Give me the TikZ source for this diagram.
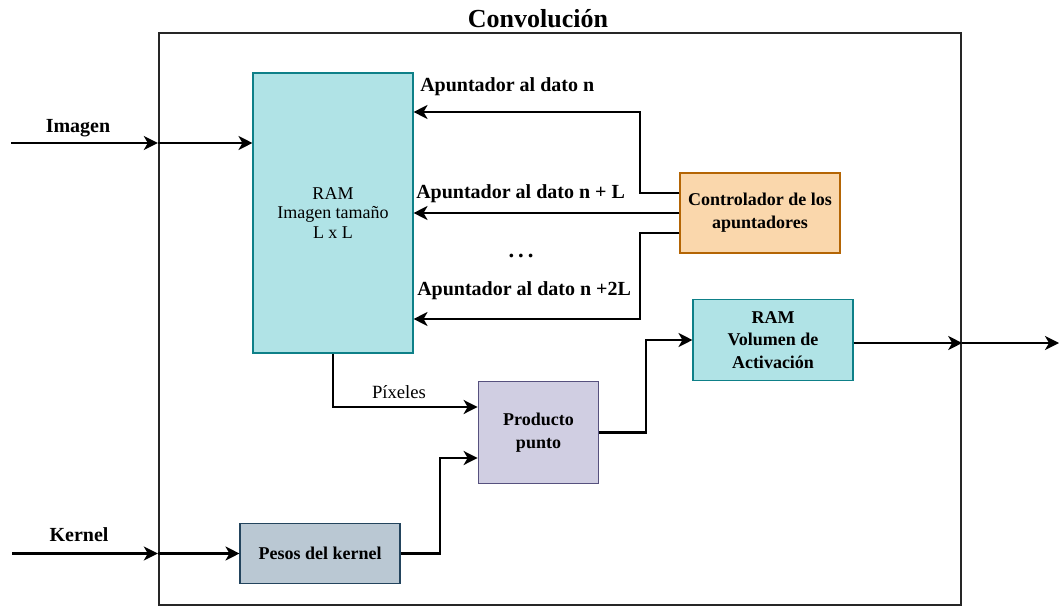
\documentclass[tikz,border=0pt]{standalone}
\usepackage{fontspec}
\setmainfont{Liberation Serif}
\usetikzlibrary{arrows.meta,calc}
\definecolor{tealF}{HTML}{B0E3E6}\definecolor{tealD}{HTML}{0E8088}
\definecolor{orF}{HTML}{FAD7AC}\definecolor{orD}{HTML}{B46504}
\definecolor{puF}{HTML}{D0CEE2}\definecolor{puD}{HTML}{56517E}
\definecolor{bgF}{HTML}{BAC8D3}\definecolor{bgD}{HTML}{23445D}
\tikzset{
  blk/.style={draw, line width=0.8pt, align=center, inner sep=2pt, font=\fontsize{13.5}{17}\selectfont\bfseries},
  arr/.style={line width=1.6pt, -{Stealth[length=10.5pt,width=10.5pt,inset=3pt]}},
  lbl/.style={font=\fontsize{15}{18}\selectfont\bfseries, inner sep=0pt},
}
\begin{document}
\begin{tikzpicture}[x=0.75pt,y=-0.75pt]
\useasboundingbox (0,0) rectangle (1060,606);
% outer box
\node[draw=black!85, line width=1.8pt, minimum width=601.5pt, minimum height=429pt, inner sep=0pt] (conv) at (560,319) {};
\node[font=\fontsize{19.5}{22}\selectfont\bfseries, inner sep=0pt] (title) at (538,19) {Convolución};
% blocks
\node[blk, fill=tealF, draw=tealD, minimum width=120pt, minimum height=210pt, font=\fontsize{13.5}{14.5}\selectfont] (ram) at (333,213) {RAM\\Imagen tamaño\\L x L};
\node[blk, fill=orF, draw=orD, minimum width=120pt, minimum height=60pt] (ctrl) at (760,213) {Controlador de los\\apuntadores};
\node[blk, fill=tealF, draw=tealD, minimum width=120pt, minimum height=61pt] (vol) at (773,340) {RAM\\Volumen de\\Activación};
\node[blk, fill=puF, draw=puD, minimum width=90.5pt, minimum height=77pt] (prod) at (538.5,432.5) {Producto\\punto};
\node[blk, fill=bgF, draw=bgD, minimum width=120pt, minimum height=45pt] (pesos) at (320,553.5) {Pesos del kernel};
% inputs
\coordinate (imgin) at (11,143);
\coordinate (kerin) at (12,553.5);
\coordinate (outend) at (1059,343);
\draw[arr] (imgin) -- (imgin -| conv.west);
\draw[arr] (imgin -| conv.west) -- (imgin -| ram.west);
\node[lbl] (limg) at (78,128) {Imagen};
\draw[arr] (kerin) -- (kerin -| conv.west);
\draw[arr] (kerin -| conv.west) -- (pesos.west);
\node[lbl] (lker) at (79,535) {Kernel};
% output
\draw[arr] ($(vol.east)+(0,3)$) -- (outend -| conv.east);
\draw[arr] (outend -| conv.east) -- (outend);
% pointers
\coordinate (b1) at (640,112);
\coordinate (b3) at (640,319);
\draw[arr] ($(ctrl.west)+(0,-20)$) -| (b1) -- (b1 -| ram.east);
\draw[arr] (ctrl.west) -- (ctrl.west -| ram.east);
\draw[arr] ($(ctrl.west)+(0,20)$) -| (b3) -- (b3 -| ram.east);
\node[lbl, anchor=west] (l1) at (420,87) {Apuntador al dato n};
\node[lbl, anchor=west] (l2) at (416,194) {Apuntador al dato n + L};
\node[lbl, anchor=west] (l3) at (417,291) {Apuntador al dato n +2L};
\node[lbl, font=\fontsize{17}{18}\selectfont\bfseries] (dots) at (521,256) {.\hspace{3pt}.\hspace{3pt}.};
% pixels
\coordinate (px) at (333,407);
\draw[arr] (ram.south) -- (px) -- (px -| prod.west);
\node[font=\fontsize{14}{16}\selectfont, inner sep=0pt] (lpx) at (399,392) {Píxeles};
% kernel weights to product
\coordinate (k1) at (440,458);
\draw[arr] (pesos.east) -| (k1) -- (k1 -| prod.west);
% product to volume
\coordinate (p1) at (646,340);
\draw[arr] (prod.east) -| (p1) -- (vol.west);
\end{tikzpicture}
\end{document}
